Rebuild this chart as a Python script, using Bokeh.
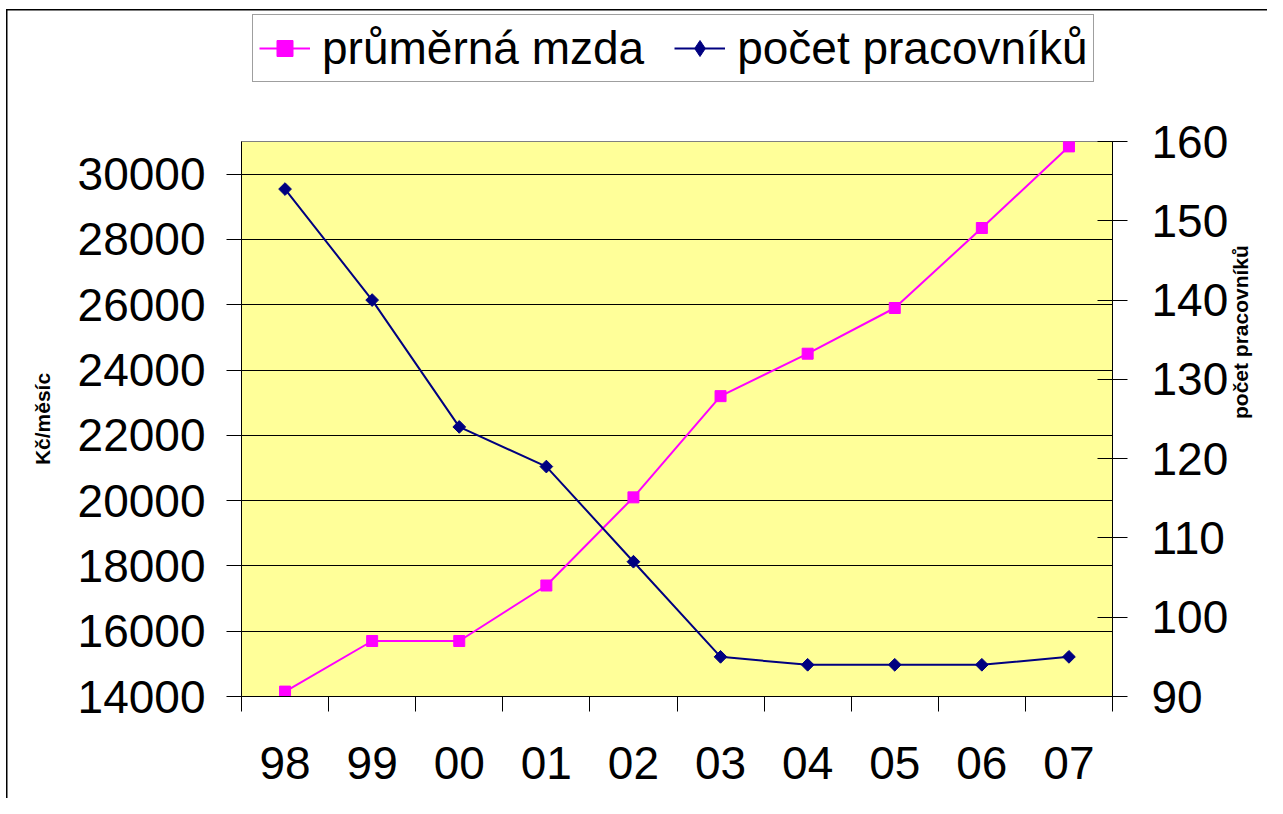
import math
from bokeh.plotting import figure
from bokeh.layouts import column
from bokeh.models import (Range1d, LinearAxis, FixedTicker, Legend, LegendItem,
                          ColumnDataSource)
from bokeh.embed import file_html
from bokeh.resources import INLINE

# ---- data ----
years = ["98", "99", "00", "01", "02", "03", "04", "05", "06", "07"]
mzda = [14150, 15700, 15700, 17400, 20100, 23200, 24500, 25900, 28350, 30850]
pocet = [154, 140, 124, 119, 107, 95, 94, 94, 94, 95]
left_ticks = [14000, 16000, 18000, 20000, 22000, 24000, 26000, 28000, 30000]
right_ticks = [90, 100, 110, 120, 130, 140, 150, 160]
series_names = ["průměrná mzda", "počet pracovníků"]

xs = [i + 0.5 for i in range(len(years))]
src = ColumnDataSource(dict(x=xs, mzda=mzda, pocet=pocet))

FONT = "Liberation Sans"
MAGENTA = "#FF00FF"
NAVY = "#000080"

# ---------------- main chart ----------------
p = figure(width=1267, height=687, output_backend="svg", toolbar_location=None,
           x_range=Range1d(0, len(years)), y_range=Range1d(14000, 31000),
           min_border_left=241, min_border_top=30, min_border_right=155,
           min_border_bottom=102, background_fill_color="#FFFF99",
           border_fill_alpha=0, outline_line_color="#808080", outline_line_width=1)
p.extra_y_ranges = {"r": Range1d(90, 160)}

xa = p.xaxis[0]
xa.ticker = FixedTicker(ticks=xs, minor_ticks=list(range(len(years) + 1)))
xa.major_label_overrides = {x: y for x, y in zip(xs, years)}
xa.major_tick_out = 0
xa.major_tick_in = 0
xa.minor_tick_out = 15
xa.minor_tick_in = 0
xa.minor_tick_line_color = "black"
xa.axis_line_color = "black"
xa.major_label_text_font = FONT
xa.major_label_text_font_size = "46px"
xa.major_label_text_color = "black"
xa.major_label_standoff = 35

ya = p.yaxis[0]
ya.ticker = FixedTicker(ticks=left_ticks)
ya.major_tick_out = 15
ya.major_tick_in = 0
ya.minor_tick_out = 0
ya.minor_tick_in = 0
ya.axis_line_color = "black"
ya.major_tick_line_color = "black"
ya.major_label_text_font = FONT
ya.major_label_text_font_size = "46px"
ya.major_label_text_color = "black"
ya.major_label_standoff = 21
ya.axis_label = "Kč/měsíc"
ya.axis_label_text_font = FONT
ya.axis_label_text_font_size = "21px"
ya.axis_label_text_font_style = "bold"
ya.axis_label_text_color = "black"
ya.axis_label_standoff = 21

ra = LinearAxis(y_range_name="r", ticker=FixedTicker(ticks=right_ticks))
ra.major_tick_out = 15
ra.major_tick_in = 15
ra.minor_tick_out = 0
ra.minor_tick_in = 0
ra.axis_line_color = "black"
ra.major_tick_line_color = "black"
ra.major_label_text_font = FONT
ra.major_label_text_font_size = "46px"
ra.major_label_text_color = "black"
ra.major_label_standoff = 24
ra.axis_label = "počet pracovníků"
ra.axis_label_text_font = FONT
ra.axis_label_text_font_size = "21px"
ra.axis_label_text_font_style = "bold"
ra.axis_label_text_color = "black"
ra.axis_label_standoff = 9
ra.axis_label_orientation = math.pi / 2
p.add_layout(ra, "right")

p.xgrid.grid_line_color = None
p.ygrid.ticker = FixedTicker(ticks=left_ticks)
p.ygrid.grid_line_color = "black"
p.ygrid.grid_line_width = 1

p.line("x", "mzda", source=src, line_color=MAGENTA, line_width=2)
p.scatter("x", "mzda", source=src, marker="square", size=11,
          fill_color=MAGENTA, line_color=MAGENTA)
p.line("x", "pocet", source=src, y_range_name="r", line_color=NAVY, line_width=2)
p.scatter("x", "pocet", source=src, y_range_name="r", marker="square", angle=math.pi / 4,
          size=9, fill_color=NAVY, line_color=NAVY)

# ---------------- legend strip ----------------
lg = figure(width=1267, height=111, output_backend="svg", toolbar_location=None,
            x_range=Range1d(0, 1), y_range=Range1d(0, 1),
            x_axis_location=None, y_axis_location=None,
            min_border=0, min_border_left=0, min_border_right=0,
            min_border_top=0, min_border_bottom=0,
            background_fill_alpha=0, border_fill_alpha=0, outline_line_color=None)
lg.grid.visible = False
off = dict(x=[-5, -4], y=[-5, -4])
dl1 = lg.line(x=off["x"], y=off["y"], line_color=MAGENTA, line_width=2)
ds1 = lg.scatter(x=off["x"], y=off["y"], marker="square", size=11,
                 fill_color=MAGENTA, line_color=MAGENTA)
dl2 = lg.line(x=off["x"], y=off["y"], line_color=NAVY, line_width=2)
ds2 = lg.scatter(x=off["x"], y=off["y"], marker="diamond", size=14,
                 fill_color=NAVY, line_color=NAVY)

legend = Legend(items=[LegendItem(label=series_names[0], renderers=[dl1, ds1]),
                       LegendItem(label=series_names[1], renderers=[dl2, ds2])],
                orientation="horizontal", location=(11, 29),
                label_text_font=FONT, label_text_font_size="46px",
                label_text_color="black",
                glyph_width=51, glyph_height=40, label_standoff=12, spacing=30,
                padding=6, margin=0, border_line_color="#404040", border_line_width=1,
                background_fill_color="white", background_fill_alpha=1)
lg.add_layout(legend, "center")

lay = column(lg, p, spacing=0)
lay.styles = {
    "background": ("linear-gradient(#000, #000) 6px 9px / 1.5px 100% no-repeat, "
                   "linear-gradient(#000, #000) 6px 9px / 100% 1.5px no-repeat, white"),
}

open("out.html", "w").write(file_html(lay, INLINE))
